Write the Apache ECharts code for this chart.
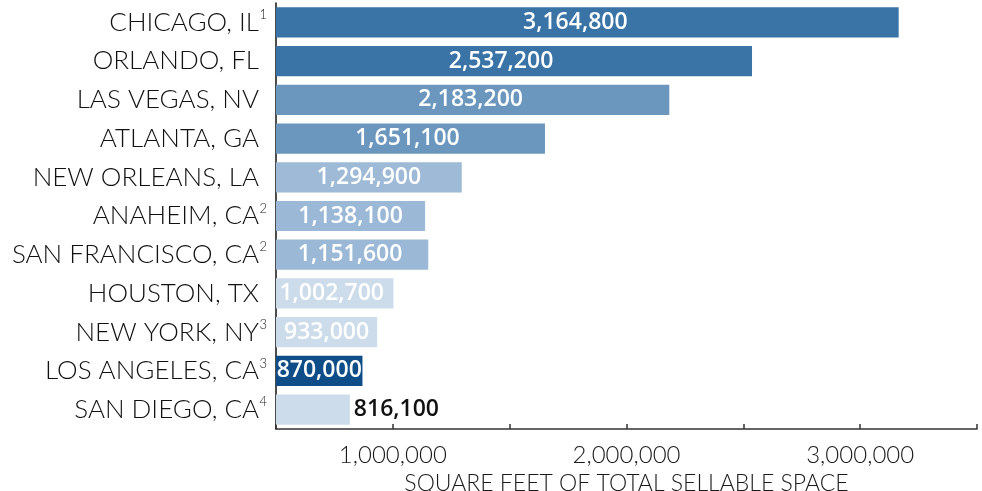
<!DOCTYPE html>
<html>
<head>
<meta charset="utf-8">
<script src="https://cdn.jsdelivr.net/npm/echarts@6/dist/echarts.min.js"></script>
<style>
  html, body { margin: 0; padding: 0; background: #fff; }
  #chart { width: 982px; height: 491px; }
</style>
</head>
<body>
<div id="chart"></div>
<script>
// venues, top to bottom
const cities = ['CHICAGO, IL', 'ORLANDO, FL', 'LAS VEGAS, NV', 'ATLANTA, GA', 'NEW ORLEANS, LA',
  'ANAHEIM, CA', 'SAN FRANCISCO, CA', 'HOUSTON, TX', 'NEW YORK, NY', 'LOS ANGELES, CA', 'SAN DIEGO, CA'];
const footnotes = ['1', '', '', '', '', '2', '2', '', '3', '3', '4'];
const sellableSpace = [3164800, 2537200, 2183200, 1651100, 1294900, 1138100, 1151600, 1002700, 933000, 870000, 816100];
const axisTicks = [1000000, 2000000, 3000000];

// bar shades + small label nudges seen in the original
const barColors = ['#3a74a6', '#3a74a6', '#6b97be', '#6b97be', '#9ebad6', '#9bb9d6', '#9bb9d6',
  '#cddcea', '#cddcea', '#0e4d88', '#cddcea'];
const labelShift = [-12, -13, -2, -3, 0, 0, -2, -3, 0, 0, 0];

const fmt = v => Number(v).toLocaleString('en-US');
const font = 'Lato, "Open Sans", sans-serif';
const numFont = '"Open Sans", Lato, sans-serif';

const chart = echarts.init(document.getElementById('chart'));

const option = {
  animation: false,
  grid: { left: 276, right: 5, top: 3, bottom: 62, outerBoundsMode: 'none' },
  xAxis: {
    type: 'value',
    min: 500000,
    max: 3500000,
    interval: 500000,
    splitLine: { show: false },
    axisLine: { show: true, lineStyle: { color: '#333', width: 1.5 } },
    axisTick: { show: true, inside: true, length: 5, lineStyle: { color: '#333', width: 1.5 } },
    axisLabel: {
      margin: 14,
      color: '#1a1a1a',
      fontFamily: font,
      fontWeight: 300,
      fontSize: 24,
      formatter: v => (axisTicks.indexOf(v) >= 0 ? fmt(v) : '')
    },
    name: 'SQUARE FEET OF TOTAL SELLABLE SPACE',
    nameLocation: 'middle',
    nameGap: 36,
    nameTextStyle: { color: '#1a1a1a', fontFamily: font, fontWeight: 300, fontSize: 23 }
  },
  yAxis: {
    type: 'category',
    inverse: true,
    data: cities,
    axisLine: { show: true, lineStyle: { color: '#111', width: 1.5 } },
    axisTick: { show: false },
    axisLabel: {
      margin: 9,
      formatter: (v, i) => '{a|' + v + '}{s|' + (footnotes[i] || ' ') + '}',
      rich: {
        a: { color: '#111', fontFamily: font, fontWeight: 300, fontSize: 26, lineHeight: 28 },
        s: { color: '#222', fontFamily: font, fontWeight: 300, fontSize: 13, width: 8, align: 'right',
             verticalAlign: 'top', lineHeight: 13, padding: [0, 0, 18, 0] }
      }
    }
  },
  series: [{
    type: 'bar',
    barCategoryGap: '22%',
    data: sellableSpace.map((v, i) => {
      const outside = i === sellableSpace.length - 1;
      return {
        value: v,
        itemStyle: { color: barColors[i] },
        label: outside
          ? { position: 'right', distance: 4, color: '#111' }
          : { offset: [labelShift[i], 0] }
      };
    }),
    label: {
      show: true,
      position: 'inside',
      color: '#fff',
      fontFamily: numFont,
      fontWeight: 600,
      fontSize: 23,
      formatter: p => fmt(p.value)
    }
  }]
};

chart.setOption(option);
</script>
</body>
</html>
